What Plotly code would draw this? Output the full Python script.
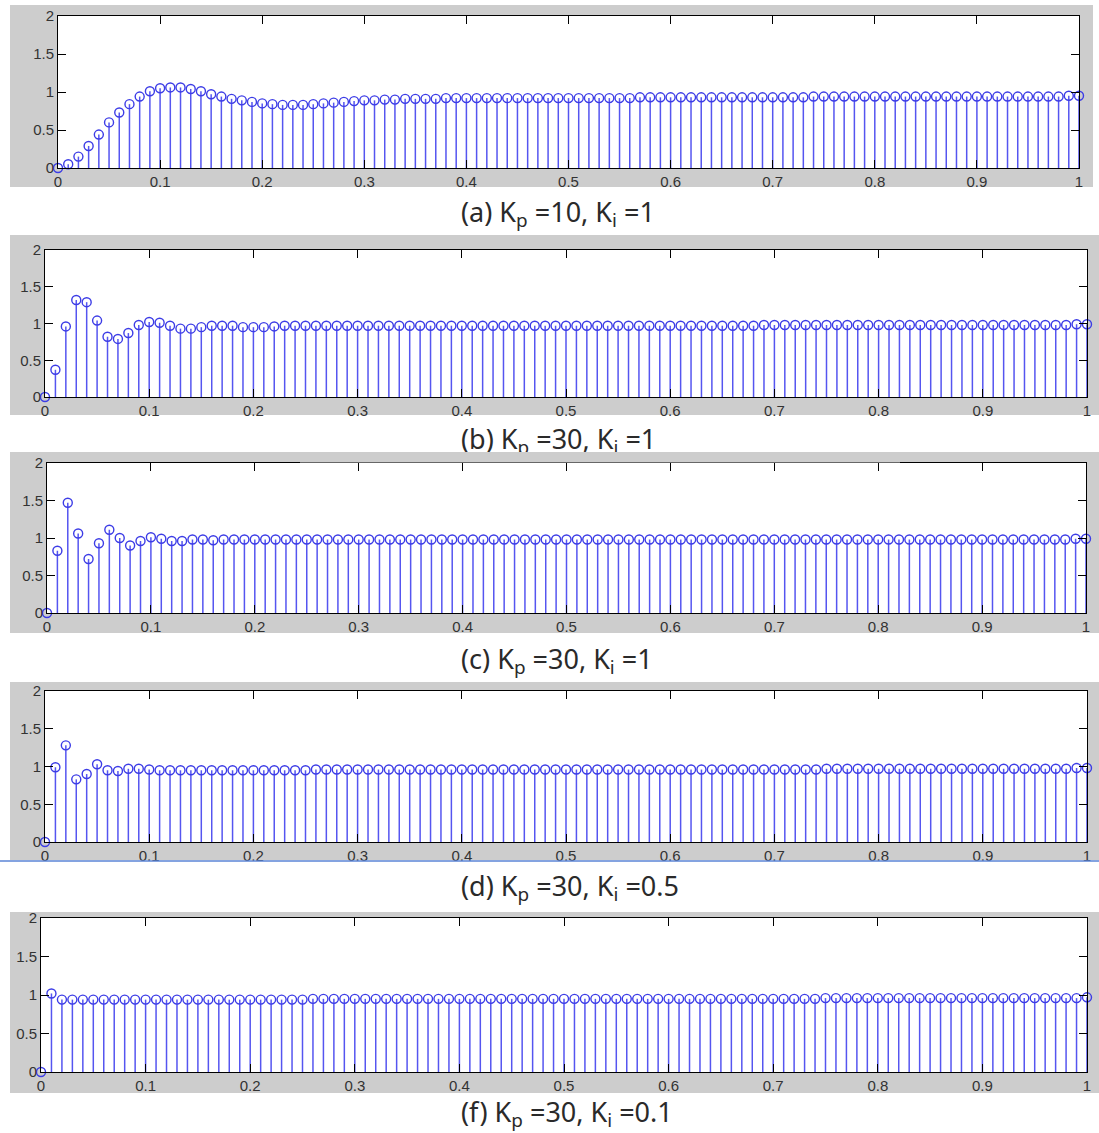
import plotly.graph_objects as go

W, H = 1099, 1133

# ---------------- data ----------------
t = [round(i * 0.01, 2) for i in range(101)]

resp_a = [
    0.00, 0.05, 0.15, 0.29, 0.44, 0.60, 0.73, 0.84, 0.94, 1.01,
    1.05, 1.06, 1.06, 1.04, 1.01, 0.97, 0.94, 0.91, 0.89, 0.87,
    0.85, 0.84, 0.83, 0.83, 0.83, 0.84, 0.85, 0.86, 0.87, 0.88,
    0.89, 0.89, 0.90, 0.90, 0.91, 0.91, 0.91, 0.91, 0.92, 0.92,
    0.92, 0.92, 0.92, 0.92, 0.92, 0.92, 0.92, 0.92, 0.92, 0.92,
    0.92, 0.92, 0.92, 0.92, 0.92, 0.92, 0.92, 0.93, 0.93, 0.93,
    0.93, 0.93, 0.93, 0.93, 0.93, 0.93, 0.93, 0.93, 0.93, 0.93,
    0.93, 0.93, 0.93, 0.93, 0.94, 0.94, 0.94, 0.94, 0.94, 0.94,
    0.94, 0.94, 0.94, 0.94, 0.94, 0.94, 0.94, 0.94, 0.94, 0.94,
    0.94, 0.94, 0.94, 0.94, 0.94, 0.94, 0.94, 0.94, 0.94, 0.95,
    0.95,
]

resp_b = [
    0.00, 0.37, 0.96, 1.32, 1.29, 1.04, 0.82, 0.79, 0.87, 0.98,
    1.02, 1.01, 0.97, 0.93, 0.93, 0.95, 0.97, 0.97, 0.97, 0.95,
    0.95, 0.95, 0.96, 0.97, 0.97, 0.97, 0.97, 0.97, 0.97, 0.97,
    0.97, 0.97, 0.97, 0.97, 0.97, 0.97, 0.97, 0.97, 0.97, 0.97,
    0.97, 0.97, 0.97, 0.97, 0.97, 0.97, 0.97, 0.97, 0.97, 0.97,
    0.97, 0.97, 0.97, 0.97, 0.97, 0.97, 0.97, 0.97, 0.97, 0.97,
    0.97, 0.97, 0.97, 0.97, 0.97, 0.97, 0.97, 0.97, 0.97, 0.98,
    0.98, 0.98, 0.98, 0.98, 0.98, 0.98, 0.98, 0.98, 0.98, 0.98,
    0.98, 0.98, 0.98, 0.98, 0.98, 0.98, 0.98, 0.98, 0.98, 0.98,
    0.98, 0.98, 0.98, 0.98, 0.98, 0.98, 0.98, 0.98, 0.98, 0.99,
    0.99,
]

resp_c = [
    0.00, 0.83, 1.47, 1.06, 0.72, 0.93, 1.11, 1.00, 0.90, 0.96,
    1.01, 0.99, 0.96, 0.96, 0.98, 0.98, 0.97, 0.98, 0.98, 0.98,
    0.98, 0.98, 0.98, 0.98, 0.98, 0.98, 0.98, 0.98, 0.98, 0.98,
    0.98, 0.98, 0.98, 0.98, 0.98, 0.98, 0.98, 0.98, 0.98, 0.98,
    0.98, 0.98, 0.98, 0.98, 0.98, 0.98, 0.98, 0.98, 0.98, 0.98,
    0.98, 0.98, 0.98, 0.98, 0.98, 0.98, 0.98, 0.98, 0.98, 0.98,
    0.98, 0.98, 0.98, 0.98, 0.98, 0.98, 0.98, 0.98, 0.98, 0.98,
    0.98, 0.98, 0.98, 0.98, 0.98, 0.98, 0.98, 0.98, 0.98, 0.98,
    0.98, 0.98, 0.98, 0.98, 0.98, 0.98, 0.98, 0.98, 0.98, 0.98,
    0.98, 0.98, 0.98, 0.98, 0.98, 0.98, 0.98, 0.98, 0.98, 0.99,
    0.99,
]

resp_d = [
    0.00, 0.99, 1.28, 0.83, 0.90, 1.03, 0.95, 0.94, 0.97, 0.97,
    0.96, 0.95, 0.95, 0.95, 0.95, 0.95, 0.95, 0.95, 0.95, 0.95,
    0.95, 0.95, 0.95, 0.95, 0.95, 0.95, 0.96, 0.96, 0.96, 0.96,
    0.96, 0.96, 0.96, 0.96, 0.96, 0.96, 0.96, 0.96, 0.96, 0.96,
    0.96, 0.96, 0.96, 0.96, 0.96, 0.96, 0.96, 0.96, 0.96, 0.96,
    0.96, 0.96, 0.96, 0.96, 0.96, 0.96, 0.96, 0.96, 0.96, 0.96,
    0.96, 0.96, 0.96, 0.96, 0.96, 0.96, 0.96, 0.96, 0.96, 0.96,
    0.96, 0.96, 0.96, 0.96, 0.96, 0.97, 0.97, 0.97, 0.97, 0.97,
    0.97, 0.97, 0.97, 0.97, 0.97, 0.97, 0.97, 0.97, 0.97, 0.97,
    0.97, 0.97, 0.97, 0.97, 0.97, 0.97, 0.97, 0.97, 0.97, 0.98,
    0.98,
]

resp_f = [
    0.00, 1.02, 0.94, 0.94, 0.94, 0.94, 0.94, 0.94, 0.94, 0.94,
    0.94, 0.94, 0.94, 0.94, 0.94, 0.94, 0.94, 0.94, 0.94, 0.94,
    0.94, 0.94, 0.94, 0.94, 0.94, 0.94, 0.95, 0.95, 0.95, 0.95,
    0.95, 0.95, 0.95, 0.95, 0.95, 0.95, 0.95, 0.95, 0.95, 0.95,
    0.95, 0.95, 0.95, 0.95, 0.95, 0.95, 0.95, 0.95, 0.95, 0.95,
    0.95, 0.95, 0.95, 0.95, 0.95, 0.95, 0.95, 0.95, 0.95, 0.95,
    0.95, 0.95, 0.95, 0.95, 0.95, 0.95, 0.95, 0.95, 0.95, 0.95,
    0.95, 0.95, 0.95, 0.95, 0.95, 0.96, 0.96, 0.96, 0.96, 0.96,
    0.96, 0.96, 0.96, 0.96, 0.96, 0.96, 0.96, 0.96, 0.96, 0.96,
    0.96, 0.96, 0.96, 0.96, 0.96, 0.96, 0.96, 0.96, 0.96, 0.96,
    0.97,
]

series = [resp_a, resp_b, resp_c, resp_d, resp_f]
captions = [
    "(a) K<sub>p</sub> =10, K<sub>i</sub> =1",
    "(b) K<sub>p</sub> =30, K<sub>i</sub> =1",
    "(c) K<sub>p</sub> =30, K<sub>i</sub> =1",
    "(d) K<sub>p</sub> =30, K<sub>i</sub> =0.5",
    "(f) K<sub>p</sub> =30, K<sub>i</sub> =0.1",
]

x_tickvals = [0, 0.1, 0.2, 0.3, 0.4, 0.5, 0.6, 0.7, 0.8, 0.9, 1.0]
x_ticktext = ["0", "0.1", "0.2", "0.3", "0.4", "0.5", "0.6", "0.7", "0.8", "0.9", "1"]
y_tickvals = [0, 0.5, 1, 1.5, 2]
y_ticktext = ["0", "0.5", "1", "1.5", "2"]

# ---------------- layout geometry (pixels) ----------------
plot_boxes = [  # x0, x1, y0(top), y1(bottom)
    (58, 1079, 16, 168),
    (45, 1087, 250, 397),
    (47, 1086, 463, 613),
    (45, 1087, 691, 842),
    (41, 1087, 918, 1072),
]
gray_boxes = [
    (10, 1093, 5, 187),
    (10, 1099, 235, 415),
    (10, 1099, 452, 633),
    (10, 1099, 682, 860),
    (10, 1099, 912, 1093),
]
caption_y = [215, 442, 662, 889, 1115]
caption_x = 461

STEM = "#5555f0"
MARK = "#3c3ce6"
GRAY = "#cdcdcd"

fig = go.Figure()
shapes = []

for i, (vals, box, gbox) in enumerate(zip(series, plot_boxes, gray_boxes)):
    n = i + 1
    xa = "x" if n == 1 else f"x{n}"
    ya = "y" if n == 1 else f"y{n}"
    xs, ys = [], []
    for tt, vv in zip(t, vals):
        xs += [tt, tt, None]
        ys += [0, vv, None]
    fig.add_trace(go.Scatter(x=xs, y=ys, mode="lines", xaxis=xa, yaxis=ya,
                             line=dict(color=STEM, width=1.5), hoverinfo="skip",
                             showlegend=False))
    fig.add_trace(go.Scatter(x=t, y=vals, mode="markers", xaxis=xa, yaxis=ya,
                             marker=dict(symbol="circle-open", size=9, color=MARK,
                                         line=dict(width=1.4, color=MARK)),
                             cliponaxis=False, showlegend=False))
    x0, x1, y0, y1 = box
    axcommon = dict(showline=True, linecolor="black", linewidth=1, mirror="ticks",
                    ticks="inside", ticklen=8, tickcolor="black", tickwidth=1,
                    showgrid=False, zeroline=False, fixedrange=True, automargin=False,
                    tickfont=dict(family="Liberation Sans, Arial", size=15, color="#333333"))
    fig.layout[("xaxis" if n == 1 else f"xaxis{n}")] = dict(
        domain=[x0 / W, x1 / W], range=[0, 1], anchor=ya,
        tickmode="array", tickvals=x_tickvals, ticktext=x_ticktext, **axcommon)
    fig.layout[("yaxis" if n == 1 else f"yaxis{n}")] = dict(
        domain=[1 - y1 / H, 1 - y0 / H], range=[0, 2], anchor=xa,
        tickmode="array", tickvals=y_tickvals, ticktext=y_ticktext, **axcommon)

    gx0, gx1, gy0, gy1 = gbox
    shapes.append(dict(type="rect", xref="paper", yref="paper", layer="below",
                       x0=gx0 / W, x1=gx1 / W, y0=1 - gy1 / H, y1=1 - gy0 / H,
                       fillcolor=GRAY, line=dict(width=0)))
    shapes.append(dict(type="rect", xref=f"{xa} domain", yref=f"{ya} domain", layer="below",
                       x0=0, x1=1, y0=0, y1=1, fillcolor="white", line=dict(width=0)))

# captions as text on a full-page overlay axis (pixel coordinates)
fig.add_trace(go.Scatter(x=[caption_x] * len(captions), y=caption_y, mode="text",
                         text=captions, textposition="middle right",
                         textfont=dict(family="Noto Sans", size=27, color="#2a2a2a"),
                         xaxis="x6", yaxis="y6", hoverinfo="skip", showlegend=False,
                         cliponaxis=False))
fig.layout["xaxis6"] = dict(domain=[0, 1], range=[0, W], visible=False, fixedrange=True,
                            automargin=False, anchor="y6")
fig.layout["yaxis6"] = dict(domain=[0, 1], range=[H, 0], visible=False, fixedrange=True,
                            automargin=False, anchor="x6")

# top strip of panel (c)'s gray frame drawn over caption (b) (it is cut off in the original)
g3 = gray_boxes[2]
shapes.append(dict(type="rect", xref="paper", yref="paper", layer="above",
                   x0=300 / W, x1=900 / W, y0=1 - (plot_boxes[2][2] - 0.6) / H, y1=1 - g3[2] / H,
                   fillcolor=GRAY, line=dict(width=0)))

# thin blue separator under panel (d)
shapes.append(dict(type="line", xref="paper", yref="paper", x0=0, x1=1,
                   y0=1 - 861 / H, y1=1 - 861 / H, line=dict(color="#5b84d6", width=1.5)))

fig.update_layout(width=W, height=H, margin=dict(l=0, r=0, t=0, b=0, autoexpand=False),
                  paper_bgcolor="white", plot_bgcolor="rgba(0,0,0,0)",
                  shapes=shapes, showlegend=False)

fig.write_html("out.html", config={"displayModeBar": False, "staticPlot": True},
               post_script="document.body.style.margin='0';document.body.style.overflow='hidden';")
